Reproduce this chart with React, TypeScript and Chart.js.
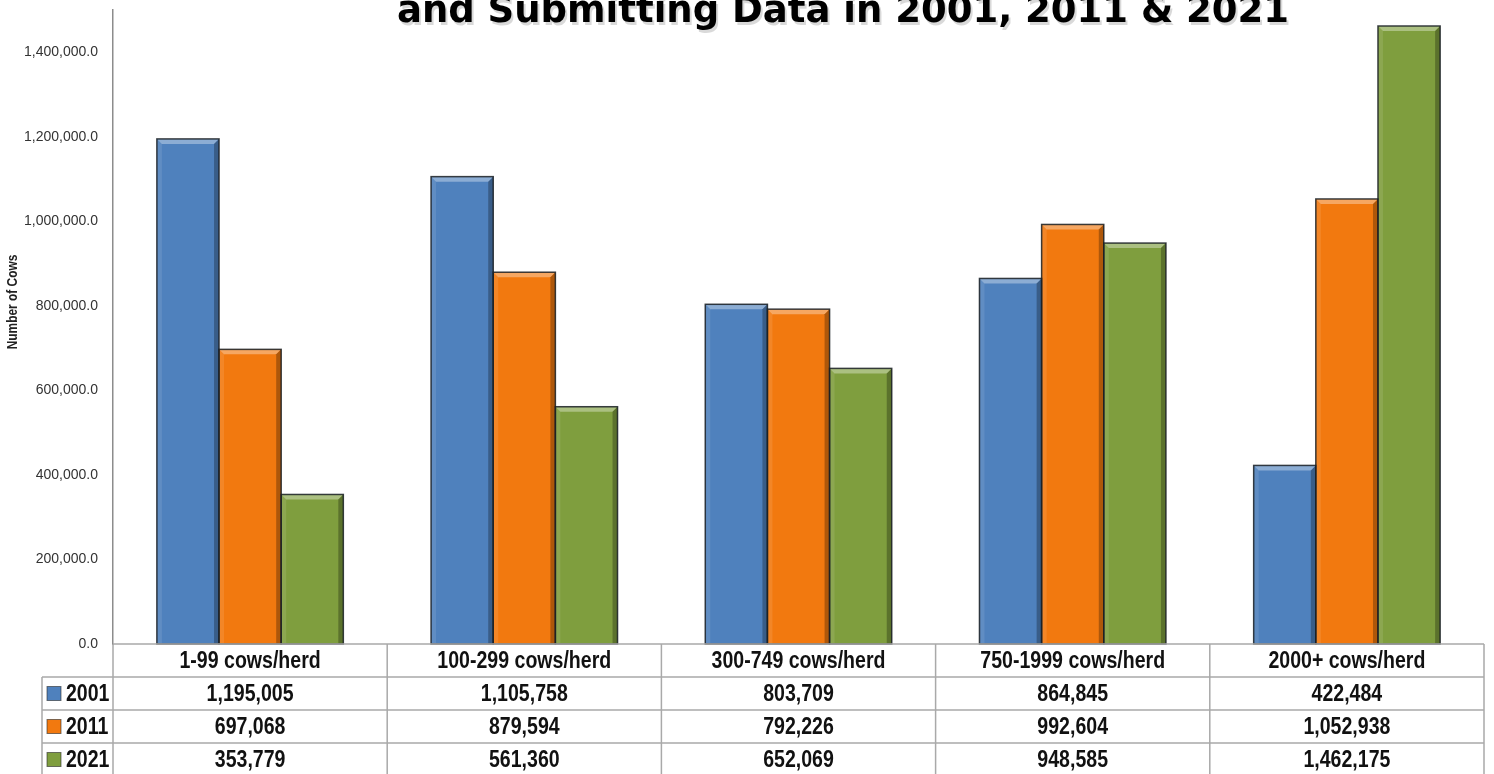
import React, { useEffect, useRef } from "react";
import { Chart, registerables } from "chart.js";

Chart.register(...registerables);

const titleText = "and Submitting Data in 2001, 2011 & 2021";
const yAxisTitle = "Number of Cows";
const categories = [
  "1-99 cows/herd",
  "100-299 cows/herd",
  "300-749 cows/herd",
  "750-1999 cows/herd",
  "2000+ cows/herd",
];
const seriesNames = ["2001", "2011", "2021"];
const values2001 = [1195005, 1105758, 803709, 864845, 422484];
const values2011 = [697068, 879594, 792226, 992604, 1052938];
const values2021 = [353779, 561360, 652069, 948585, 1462175];
const yTickValues = [0, 200000, 400000, 600000, 800000, 1000000, 1200000, 1400000];
const yMax = 1500000;

const seriesValues = [values2001, values2011, values2021];
const seriesColors = ["#4F81BD", "#F2790F", "#7F9E3E"];

const TABLE_FONT = '"Liberation Sans", Arial, sans-serif';
const NARROW = 0.85;
const ROW_H = 33;
const LABEL_LEFT = 42;

const fmtInt = (v: number) => v.toLocaleString("en-US");
const fmtTick = (v: number) =>
  v.toLocaleString("en-US", { minimumFractionDigits: 1, maximumFractionDigits: 1 });

// draws horizontally condensed text (emulates a narrow typeface)
function narrowText(ctx: any, text: string, x: number, y: number, align: string) {
  ctx.save();
  ctx.translate(x, y);
  ctx.scale(NARROW, 1);
  ctx.textAlign = align;
  ctx.fillText(text, 0, 0);
  ctx.restore();
}

const bevelPlugin = {
  id: "bevel",
  afterDatasetsDraw(chart: any) {
    const ctx = chart.ctx;
    ctx.save();
    chart.data.datasets.forEach((ds: any, di: number) => {
      const meta = chart.getDatasetMeta(di);
      meta.data.forEach((bar: any) => {
        const { x, y, base, width } = bar.getProps(["x", "y", "base", "width"], true);
        const l = x - width / 2;
        const r = x + width / 2;
        const t = Math.min(y, base);
        const b = Math.max(y, base);
        const bv = 5;
        ctx.beginPath();
        ctx.moveTo(l, t);
        ctx.lineTo(r, t);
        ctx.lineTo(r - bv, t + bv);
        ctx.lineTo(l + bv, t + bv);
        ctx.closePath();
        ctx.fillStyle = "rgba(255,255,255,0.35)";
        ctx.fill();
        ctx.beginPath();
        ctx.moveTo(l, t);
        ctx.lineTo(l + bv, t + bv);
        ctx.lineTo(l + bv, b);
        ctx.lineTo(l, b);
        ctx.closePath();
        ctx.fillStyle = "rgba(255,255,255,0.10)";
        ctx.fill();
        ctx.beginPath();
        ctx.moveTo(r, t);
        ctx.lineTo(r - bv, t + bv);
        ctx.lineTo(r - bv, b);
        ctx.lineTo(r, b);
        ctx.closePath();
        ctx.fillStyle = "rgba(0,0,0,0.28)";
        ctx.fill();
        ctx.strokeStyle = "rgba(25,30,35,0.85)";
        ctx.lineWidth = 1.5;
        ctx.strokeRect(l, t, width, b - t);
      });
    });
    ctx.restore();
  },
};

const decorPlugin = {
  id: "decor",
  afterDraw(chart: any) {
    const ctx = chart.ctx;
    const area = chart.chartArea;
    const xs = chart.scales.x;
    ctx.save();

    // title (second line of a title cropped at the top)
    ctx.font = 'bold 37px "DejaVu Sans", sans-serif';
    ctx.textAlign = "center";
    ctx.textBaseline = "alphabetic";
    ctx.fillStyle = "rgba(0,0,0,0.15)";
    ctx.fillText(titleText, 845, 25);
    ctx.fillStyle = "#000000";
    ctx.fillText(titleText, 843, 22);

    // y axis title
    ctx.save();
    ctx.translate(13, 302);
    ctx.rotate(-Math.PI / 2);
    ctx.font = "bold 14px " + TABLE_FONT;
    ctx.fillStyle = "#222222";
    ctx.textBaseline = "middle";
    narrowText(ctx, yAxisTitle, 0, 0, "center");
    ctx.restore();

    // data table
    const top = area.bottom;
    const left = area.left;
    const right = area.right;
    const step = xs.getPixelForValue(1) - xs.getPixelForValue(0);
    const bottom = top + ROW_H * 4;
    ctx.strokeStyle = "#a9a9a9";
    ctx.lineWidth = 1.5;
    ctx.beginPath();
    ctx.moveTo(left, top);
    ctx.lineTo(right, top);
    for (let i = 1; i <= 4; i++) {
      ctx.moveTo(LABEL_LEFT, top + ROW_H * i);
      ctx.lineTo(right, top + ROW_H * i);
    }
    ctx.moveTo(LABEL_LEFT, top + ROW_H);
    ctx.lineTo(LABEL_LEFT, bottom);
    for (let c = 0; c <= categories.length; c++) {
      const x = xs.getPixelForValue(0) - step / 2 + c * step;
      ctx.moveTo(x, top);
      ctx.lineTo(x, bottom);
    }
    ctx.stroke();

    ctx.textBaseline = "middle";
    ctx.font = "bold 23px " + TABLE_FONT;
    ctx.fillStyle = "#111111";
    categories.forEach((c, ci) => {
      narrowText(ctx, c, xs.getPixelForValue(ci), top + ROW_H / 2 + 1, "center");
    });
    seriesNames.forEach((name, si) => {
      const cy = top + ROW_H * (si + 1) + ROW_H / 2;
      ctx.fillStyle = seriesColors[si];
      ctx.fillRect(47, cy - 7, 14, 14);
      ctx.strokeStyle = "rgba(40,40,40,0.6)";
      ctx.lineWidth = 1;
      ctx.strokeRect(47, cy - 7, 14, 14);
      ctx.fillStyle = "#111111";
      narrowText(ctx, name, 66, cy + 1, "left");
      seriesValues[si].forEach((v, ci) => {
        narrowText(ctx, fmtInt(v), xs.getPixelForValue(ci), cy + 1, "center");
      });
    });
    ctx.restore();
  },
};

export default function App() {
  const canvasRef = useRef<HTMLCanvasElement | null>(null);

  useEffect(() => {
    document.body.style.margin = "0";
    const canvas = canvasRef.current;
    if (!canvas) return;
    const chart = new Chart(canvas, {
      type: "bar",
      data: {
        labels: categories,
        datasets: seriesNames.map((name, i) => ({
          label: name,
          data: seriesValues[i],
          backgroundColor: seriesColors[i],
          borderWidth: 0,
          barPercentage: 1.0,
          categoryPercentage: 0.68,
        })),
      },
      options: {
        animation: false,
        responsive: false,
        maintainAspectRatio: false,
        layout: { padding: { left: 0, right: 10, top: 10, bottom: 0 } },
        plugins: {
          legend: { display: false },
          title: { display: false },
          tooltip: { enabled: false },
        },
        scales: {
          x: {
            grid: { display: false, drawTicks: false },
            border: { display: false },
            ticks: { display: false },
            afterFit: (s: any) => {
              s.height = 130;
              s.paddingLeft = 0;
              s.paddingRight = 0;
            },
          },
          y: {
            min: 0,
            max: yMax,
            grid: { display: false, drawTicks: false },
            border: { display: true, color: "#8c8c8c", width: 1.5 },
            afterBuildTicks: (s: any) => {
              s.ticks = yTickValues.map((v) => ({ value: v }));
            },
            ticks: {
              padding: 15,
              color: "#333333",
              font: { family: '"Liberation Sans", sans-serif', size: 14 },
              callback: (v: any) => fmtTick(Number(v)),
            },
            afterFit: (s: any) => {
              s.width = 113;
              s.paddingTop = 0;
              s.paddingBottom = 0;
            },
          },
        },
      },
      plugins: [bevelPlugin, decorPlugin],
    });
    return () => chart.destroy();
  }, []);

  return (
    <div style={{ position: "absolute", left: 0, top: 0, width: 1494, height: 774, background: "#ffffff" }}>
      <canvas ref={canvasRef} width={1494} height={774} style={{ display: "block" }} />
    </div>
  );
}
